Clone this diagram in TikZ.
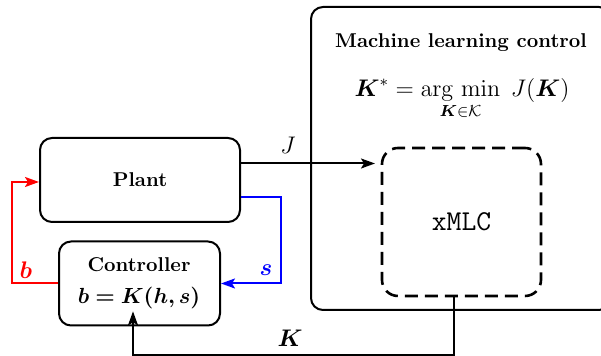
\documentclass[tikz,border=0pt]{standalone}
\usepackage{amsmath,amssymb,bm}
\usetikzlibrary{arrows.meta,calc}
\tikzset{
  blockbox/.style={draw, line width=1pt, rounded corners=6pt, inner sep=0pt},
  learnbox/.style={draw, line width=1.3pt, dash pattern=on 6.5pt off 3.5pt, rounded corners=8pt, inner sep=0pt},
  conn/.style={line width=1pt, -{Stealth[length=7pt,width=5pt,inset=1.5pt]}},
  lbl/.style={inner sep=0pt}
}
\begin{document}
\begin{tikzpicture}[x=0.5pt,y=-0.5pt]
\useasboundingbox (0,0) rectangle (601,356);

% machine learning control frame
\node[blockbox, minimum width=150pt, minimum height=151.5pt] (mlc) at (461,158.5) {};
\node[lbl, font=\bfseries] (mlctitle) at (461,43) {Machine learning control};
\node[lbl, font=\fontsize{11.6}{13}\selectfont] (argmin) at (462,99)
  {$\displaystyle \bm{K}^{*} = \operatorname*{arg\ min}_{\bm{K}\in\mathcal{K}}\; J(\bm{K})$};
\node[learnbox, minimum width=79.5pt, minimum height=74pt, font=\Large\ttfamily] (xmlc) at (461.5,222) {xMLC};

% plant and controller
\node[blockbox, minimum width=100pt, minimum height=42pt, font=\bfseries] (plant) at (140,180) {Plant};
\node[blockbox, minimum width=80.5pt, minimum height=42pt] (ctrl) at (139.5,283.5) {};
\node[lbl, font=\bfseries] (ctrltitle) at (139,265) {Controller};
\node[inner sep=1pt, font=\fontsize{11}{13}\selectfont] (ctrlf) at (139,298) {$\bm{b = K(h,s)}$};

% cost signal to the learner
\coordinate (jin) at (375,163.5);
\draw[conn] ([yshift=8.25pt]plant.east) -- (jin);
\node[lbl, font=\large] (jlbl) at (288,145) {$J$};

% sensor signal
\draw[conn, blue] ([yshift=-8.5pt]plant.east) -| (281,240) |- (ctrl.east);
\node[lbl, blue, font=\large] (slbl) at (266,270) {$\bm{s}$};

% actuation signal
\draw[conn, red] (ctrl.west) -| (12,230) |- ([yshift=-1pt]plant.west);
\node[lbl, red, font=\large] (blbl) at (26,270) {$\bm{b}$};

% learned control law back to the controller
\draw[conn] ([xshift=-4pt]xmlc.south) -- ++(0,58) -| ([xshift=-3pt]ctrlf.south);
\node[lbl, font=\large] (klbl) at (290,338) {$\bm{K}$};
\end{tikzpicture}
\end{document}
